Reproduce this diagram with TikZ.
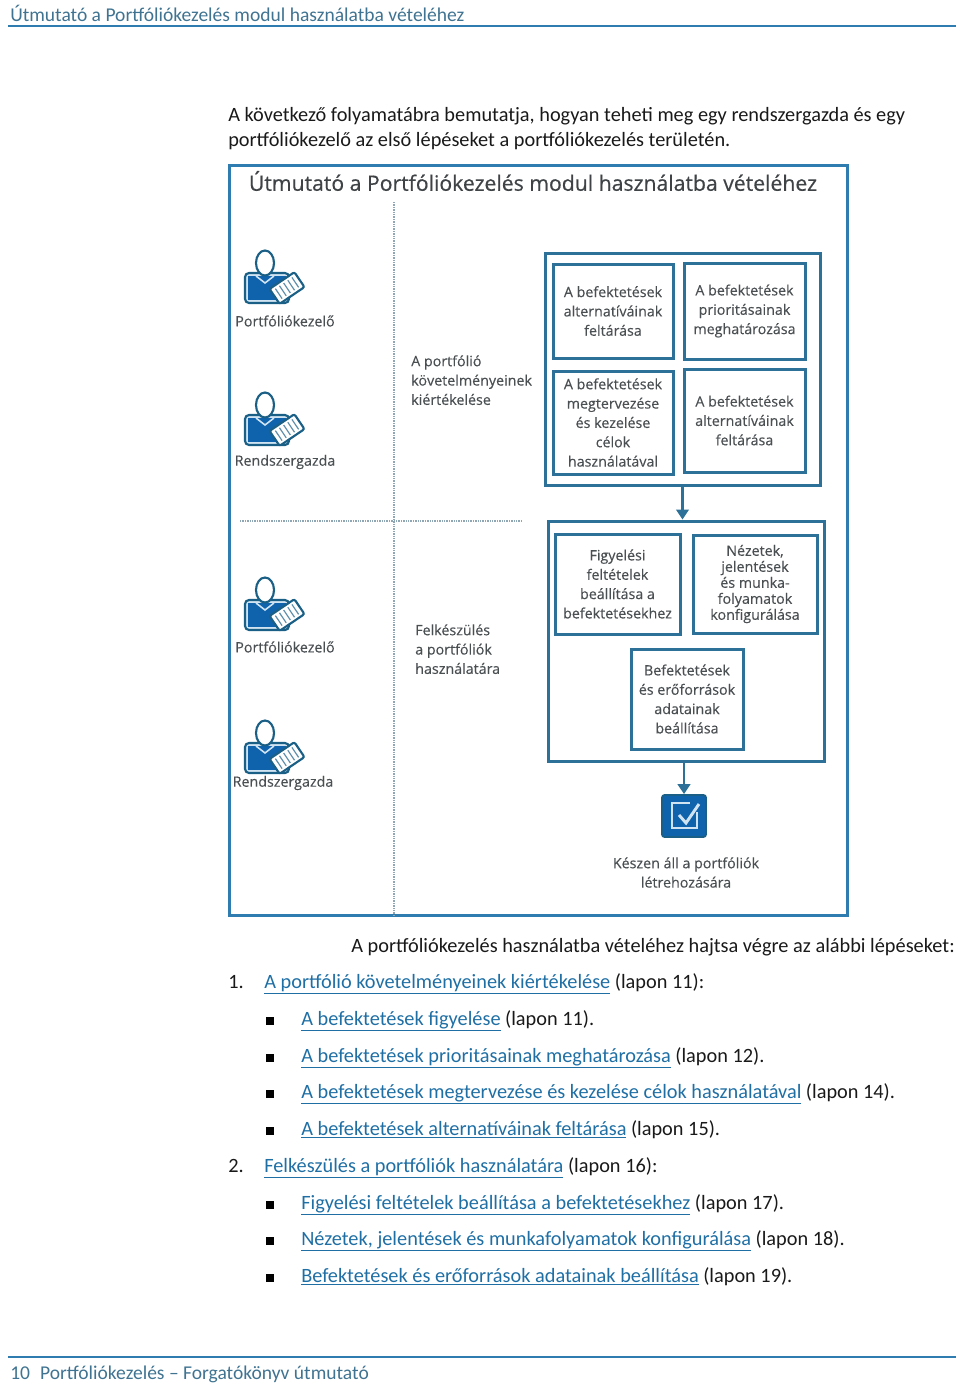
\documentclass[tikz,border=0pt]{standalone}
\usepackage{fontspec}
\setmainfont{Carlito}
\newfontfamily\figfont[FakeBold=0.25]{Open Sans}
\newfontfamily\figtitlefont[FakeBold=0.5]{Open Sans}
\usetikzlibrary{arrows.meta,fit}
\definecolor{rulecol}{HTML}{2F7DB0}
\definecolor{headcol}{HTML}{3F7391}
\definecolor{linkcol}{HTML}{1F6FA5}
\definecolor{figtext}{HTML}{4A4F52}
\definecolor{dotcol}{HTML}{8FA6B5}
\definecolor{tilecol}{HTML}{2D7199}
\definecolor{iconblue}{HTML}{0F62AC}
\definecolor{icondark}{HTML}{1A5F85}
\definecolor{iconpale}{HTML}{CFE3F2}
\tikzset{
  bodytext/.style={anchor=base west,inner sep=0pt,font=\fontsize{15.24pt}{18pt}\selectfont,text=black!90},
  headtext/.style={anchor=base west,inner sep=0pt,font=\fontsize{14.65pt}{18pt}\selectfont,text=headcol},
  figlabel/.style={inner sep=0pt,align=center,text=figtext,font=\figfont\fontsize{10.7pt}{14.5pt}\selectfont},
  figleft/.style={figlabel,align=left,anchor=north west},
  tilesize/.style 2 args={minimum width=#1*0.75pt,minimum height=#2*0.75pt},
  groupbox/.style={draw=tilecol,line width=2.25pt,inner sep=0pt,fill=white},
  tilebox/.style={figlabel,draw=tilecol,line width=2.25pt,fill=white},
  flowarrow/.style={draw=tilecol,line width=1.6pt,-{Triangle[length=7.5pt,width=9.5pt]}},
  dotline/.style={draw=dotcol,line width=2pt,dash pattern=on 1pt off 0.8pt},
  squarebullet/.style={fill=black,inner sep=0pt,minimum size=6pt},
  pics/adminicon/.style={code={
    \draw[fill=iconpale,draw=icondark,line width=1.6pt,rounded corners=3pt] (2,25) rectangle (46,55);
    \fill[iconblue] (5,28) rectangle (43,52);
    \draw[iconpale,line width=1.2pt] (13,28)--(22,35)--(31,28);
    \draw[fill=white,draw=icondark,line width=1.6pt] (22,15) ellipse (9 and 12.5);
    \begin{scope}[shift={(44,40)},rotate=34]
      \draw[fill=white,draw=icondark,line width=1.6pt,rounded corners=1.5pt] (-15,-9) rectangle (15,9);
      \foreach \xtick in {-10,-5,0,5,10}
        \draw[icondark!70,line width=0.9pt] (\xtick,-6)--(\xtick,6);
    \end{scope}
  }},
}
\begin{document}
\begin{tikzpicture}[x=0.75pt,y=-0.75pt]
\useasboundingbox (0,0) rectangle (960,1385);
% page header
\node[headtext] (headline) at (10,21) {Útmutató a Portfóliókezelés modul használatba vételéhez};
\coordinate (headL) at (8,26);
\coordinate (headR) at (956,26);
\draw[rulecol,line width=1.3pt] (headL) -- (headR);
% intro
\node[bodytext] (introa) at (228,121) {A következő folyamatábra bemutatja, hogyan teheti meg egy rendszergazda és egy};
\node[bodytext] (introb) at (228,146) {portfóliókezelő az első lépéseket a portfóliókezelés területén.};
% figure frame
\node[draw=rulecol,line width=2.25pt,inner sep=0pt,fit={(229,165) (847,915)}] (frame) {};
\node[inner sep=0pt,text=figtext!85!black,font=\figtitlefont\fontsize{15.9pt}{18pt}\selectfont] (figtitle) at (533,181) {Útmutató a Portfóliókezelés modul használatba vételéhez};
\coordinate (vtop) at (394,202);
\coordinate (hleft) at (240,521);
\coordinate (hright) at (522,521);
\draw[dotline] (vtop) -- (vtop |- frame.south);
\draw[dotline] (hleft) -- (hright);
% roles
\pic at (243,248) {adminicon};
\pic at (243,390) {adminicon};
\pic at (243,575) {adminicon};
\pic at (243,718) {adminicon};
\node[figlabel] (rolea) at (285,321) {Portfóliókezelő};
\node[figlabel] (roleb) at (285,462) {Rendszergazda};
\node[figlabel] (rolec) at (285,647) {Portfóliókezelő};
\node[figlabel] (roled) at (283,783) {Rendszergazda};
% phases
\node[figleft] (phasea) at (411,355) {A portfólió\\követelményeinek\\kiértékelése};
\node[figleft] (phaseb) at (415,624) {Felkészülés\\a portfóliók\\használatára};
% first group
\node[groupbox,tilesize={275}{232}] (groupa) at (682.5,369) {};
\node[tilebox,tilesize={120}{94}] (tilea) at (613,311) {A befektetések\\alternatíváinak\\feltárása};
\node[tilebox,tilesize={121}{96}] (tileb) at (744.5,311) {A befektetések\\prioritásainak\\meghatározása};
\node[tilebox,tilesize={120}{103}] (tilec) at (613,422.5) {A befektetések\\megtervezése\\és kezelése\\célok\\használatával};
\node[tilebox,tilesize={121}{103}] (tiled) at (744.5,420.5) {A befektetések\\alternatíváinak\\feltárása};
% second group
\node[groupbox,tilesize={276}{240}] (groupb) at (686,641) {};
\node[tilebox,tilesize={125}{100}] (tilee) at (617.5,584) {Figyelési\\feltételek\\beállítása a\\befektetésekhez};
\node[tilebox,tilesize={124}{98},font=\figfont\fontsize{10.7pt}{12pt}\selectfont] (tilef) at (755,584) {Nézetek,\\jelentések\\és munka-\\folyamatok\\konfigurálása};
\node[tilebox,tilesize={112}{100}] (tileg) at (687,699) {Befektetések\\és erőforrások\\adatainak\\beállítása};
% end
\node[fill=iconblue,draw=icondark,line width=1.4pt,rounded corners=2pt,inner sep=0pt,fit={(662,795) (706,837)}] (tickicon) {};
\draw[iconpale,line width=1.3pt] (697,812) -- (697,828) -- (672,828) -- (672,803) -- (690,803);
\draw[iconpale,line width=2.2pt] (679,815) -- (686,823) -- (699,804);
\node[figlabel] (ready) at (686,872.5) {Készen áll a portfóliók\\létrehozására};
\draw[flowarrow] (groupa.south) -- (groupa.south |- groupb.north);
\draw[flowarrow] (tickicon.north |- groupb.south) -- (tickicon.north);
% steps
\node[bodytext] (steps) at (351,952) {A portfóliókezelés használatba vételéhez hajtsa végre az alábbi lépéseket:};
\node[bodytext] (numa) at (228,988) {1.};
\node[bodytext] (numb) at (228,1172) {2.};
\node[bodytext] (topa) at (264,988) {\textcolor{linkcol}{\underline{A portfólió követelményeinek kiértékelése}} (lapon 11):};
\node[bodytext] (topb) at (264,1172) {\textcolor{linkcol}{\underline{Felkészülés a portfóliók használatára}} (lapon 16):};
\foreach \ypos/\linktext/\tailtext [count=\idx] in {
  1025/{A befektetések figyelése}/{(lapon 11).},
  1062/{A befektetések prioritásainak meghatározása}/{(lapon 12).},
  1098/{A befektetések megtervezése és kezelése célok használatával}/{(lapon 14).},
  1135/{A befektetések alternatíváinak feltárása}/{(lapon 15).},
  1209/{Figyelési feltételek beállítása a befektetésekhez}/{(lapon 17).},
  1245/{Nézetek, jelentések és munkafolyamatok konfigurálása}/{(lapon 18).},
  1282/{Befektetések és erőforrások adatainak beállítása}/{(lapon 19).}}{
  \node[squarebullet,anchor=south west] (bul\idx) at (266,\ypos) {};
  \node[bodytext] (item\idx) at (301,\ypos) {\textcolor{linkcol}{\underline{\linktext}} \tailtext};
}
% page footer
\coordinate (footL) at (8,1357);
\coordinate (footR) at (956,1357);
\draw[rulecol,line width=1.3pt] (footL) -- (footR);
\node[headtext] (footline) at (10,1379) {10\hspace{7.5pt}Portfóliókezelés – Forgatókönyv útmutató};
\end{tikzpicture}
\end{document}
